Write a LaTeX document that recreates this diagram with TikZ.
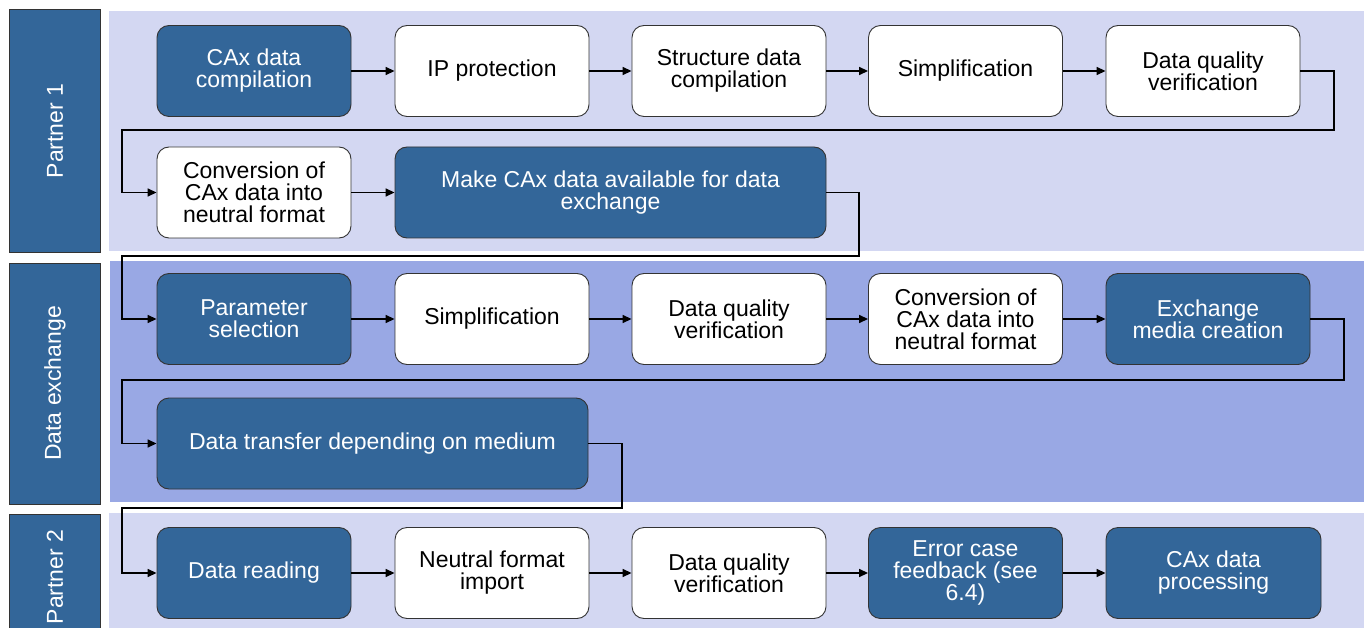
\documentclass[tikz,border=0pt]{standalone}
\usepackage{fontspec}
\setmainfont{Liberation Sans}
\usetikzlibrary{arrows.meta}
\definecolor{navy}{RGB}{51,102,153}
\definecolor{laneLight}{RGB}{211,215,242}
\definecolor{laneMid}{RGB}{153,168,228}

\begin{document}
\begin{tikzpicture}[x=1pt,y=-1pt,
  every node/.style={font=\fontsize{23}{22}\selectfont},
  proc/.style={rectangle, rounded corners=12pt, draw=black!80, line width=0.9pt,
    align=center, minimum height=91pt, inner sep=2pt},
  dark/.style={proc, fill=navy, text=white},
  light/.style={proc, fill=white, text=black},
  lanetag/.style={rectangle, draw=black!80, line width=0.9pt, fill=navy,
    text=white, rotate=90, minimum height=91pt, inner sep=0pt},
  flow/.style={draw=black, line width=1.5pt, -{Triangle[length=9pt,width=8pt]}},
]
\useasboundingbox (0,0) rectangle (1364,628);

% swimlane backgrounds
\fill[laneLight] (109,11) rectangle (1364,251);
\fill[laneMid]   (110,261) rectangle (1364,502);
\fill[laneLight] (109,513) rectangle (1364,640);

% swimlane headers
\node[lanetag, minimum width=243pt] (lane1) at (55,131) {Partner 1};
\node[lanetag, minimum width=241pt] (lane2) at (55,383.5) {Data exchange};
\node[lanetag, minimum width=126pt] (lane3) at (55,577) {Partner 2};

% Partner 1
\node[dark,  minimum width=194pt] (a1) at (254,71)    {CAx data\\compilation};
\node[light, minimum width=194pt] (a2) at (492,71)    {IP protection};
\node[light, minimum width=194pt] (a3) at (729,71)    {Structure data\\compilation};
\node[light, minimum width=194pt] (a4) at (965.5,71)  {Simplification};
\node[light, minimum width=194pt] (a5) at (1203,71)   {Data quality\\verification};
\node[light, minimum width=194pt] (a6) at (254,192.5) {Conversion of\\CAx data into\\neutral format};
\node[dark,  minimum width=431pt] (a7) at (610.5,192.5) {Make CAx data available for data\\exchange};

% Data exchange
\node[dark,  minimum width=194pt] (b1) at (254,319)   {Parameter\\selection};
\node[light, minimum width=194pt] (b2) at (492,319)   {Simplification};
\node[light, minimum width=194pt] (b3) at (729,319)   {Data quality\\verification};
\node[light, minimum width=194pt] (b4) at (965.5,319) {Conversion of\\CAx data into\\neutral format};
\node[dark,  minimum width=204pt] (b5) at (1208,319)  {Exchange\\media creation};
\node[dark,  minimum width=431pt] (b6) at (372.5,443.5) {Data transfer depending on medium};

% Partner 2
\node[dark,  minimum width=194pt] (c1) at (254,573)    {Data reading};
\node[light, minimum width=194pt] (c2) at (492,573)    {Neutral format\\import};
\node[light, minimum width=194pt] (c3) at (729,573)    {Data quality\\verification};
\node[dark,  minimum width=194pt] (c4) at (965.5,573)  {Error case\\feedback (see\\6.4)};
\node[dark,  minimum width=215pt] (c5) at (1213.5,573) {CAx data\\processing};

% turning points of the row-wrapping connectors
\coordinate (r1) at (1334,130);
\coordinate (l1) at (122,130);
\coordinate (r2) at (859,256);
\coordinate (l2) at (122,256);
\coordinate (r3) at (1344,380);
\coordinate (l3) at (122,380);
\coordinate (r4) at (622,508);
\coordinate (l4) at (122,508);

% flow
\draw[flow] (a1.east) -- (a2.west);
\draw[flow] (a2.east) -- (a3.west);
\draw[flow] (a3.east) -- (a4.west);
\draw[flow] (a4.east) -- (a5.west);
\draw[flow] (a5.east) -| (r1) -- (l1) |- (a6.west);
\draw[flow] (a6.east) -- (a7.west);
\draw[flow] (a7.east) -| (r2) -- (l2) |- (b1.west);
\draw[flow] (b1.east) -- (b2.west);
\draw[flow] (b2.east) -- (b3.west);
\draw[flow] (b3.east) -- (b4.west);
\draw[flow] (b4.east) -- (b5.west);
\draw[flow] (b5.east) -| (r3) -- (l3) |- (b6.west);
\draw[flow] (b6.east) -| (r4) -- (l4) |- (c1.west);
\draw[flow] (c1.east) -- (c2.west);
\draw[flow] (c2.east) -- (c3.west);
\draw[flow] (c3.east) -- (c4.west);
\draw[flow] (c4.east) -- (c5.west);
\end{tikzpicture}
\end{document}
